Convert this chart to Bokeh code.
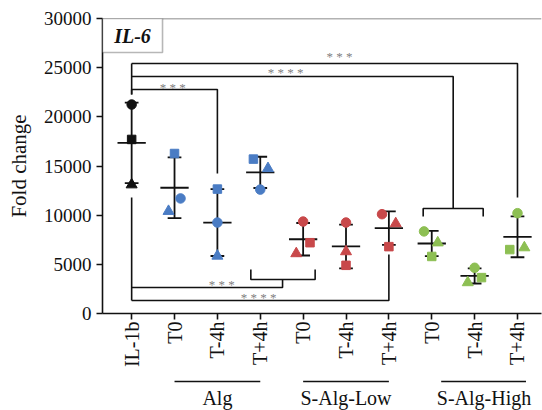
import math
from bokeh.plotting import figure
from bokeh.models import (Range1d, FixedTicker, Span, BoxAnnotation, Label,
                          ColumnDataSource)
from bokeh.layouts import column
from bokeh.embed import file_html
from bokeh.resources import INLINE
from bokeh.core.properties import value
import numpy as np

# ---------------- data ----------------
categories = ["IL-1b", "T0", "T-4h", "T+4h", "T0", "T-4h", "T+4h", "T0", "T-4h", "T+4h"]
positions = list(range(1, 11))
group_names = ["Alg", "S-Alg-Low", "S-Alg-High"]
group_first = [2, 5, 8]
group_last = [4, 7, 10]

circle_vals = [21250, 11700, 9250, 12600, 9350, 9250, 10100, 8350, 4650, 10200]
square_vals = [17700, 16270, 12650, 15700, 7200, 4900, 6800, 5800, 3650, 6500]
triangle_vals = [13100, 10400, 5850, 14750, 6100, 6300, 9150, 7200, 3150, 6700]

y_ticks = [0, 5000, 10000, 15000, 20000, 25000, 30000]

sig_labels = ["* * *", "* * * *", "* * *", "* * *", "* * * *"]

# ---------------- style / layout ----------------
FONT = "Liberation Serif"
colors = ["#111111", "#4a7cc4", "#4a7cc4", "#4a7cc4", "#c8484a", "#c8484a", "#c8484a",
          "#8dbf53", "#8dbf53", "#8dbf53"]
# horizontal spread of overlapping points (x units)
circle_dx = [0, 0.14, 0, 0, 0, 0, -0.16, -0.18, 0, 0]
square_dx = [0, 0, 0, -0.16, 0.16, 0, 0, 0, 0.16, -0.18]
triangle_dx = [0, -0.14, 0, 0.18, -0.16, 0, 0.16, 0.14, -0.16, 0.16]

X0, X1 = 0.32, 10.56
p = figure(width=542, height=375, x_range=Range1d(X0, X1), y_range=Range1d(0, 30000),
           output_backend="svg", toolbar_location=None,
           min_border_left=102, min_border_right=1, min_border_top=18, min_border_bottom=62)
p.grid.visible = False
p.outline_line_color = None

for ax in (p.xaxis[0], p.yaxis[0]):
    ax.axis_line_width = 1.6
    ax.axis_line_color = "#111111"
    ax.major_tick_line_width = 1.6
    ax.major_tick_line_color = "#111111"
    ax.major_tick_out = 6
    ax.major_tick_in = 0
    ax.minor_tick_line_color = None
    ax.major_label_text_font = FONT
    ax.major_label_text_color = "#111111"

p.yaxis.ticker = FixedTicker(ticks=y_ticks)
p.yaxis.major_label_text_font_size = "19px"
p.yaxis.major_label_standoff = 5
p.yaxis.axis_label = "Fold change"
p.yaxis.axis_label_text_font = FONT
p.yaxis.axis_label_text_font_style = "normal"
p.yaxis.axis_label_text_font_size = "21px"
p.yaxis.axis_label_text_color = "#111111"
p.yaxis.axis_label_standoff = 10

p.xaxis.ticker = FixedTicker(ticks=positions)
p.xaxis.major_label_overrides = {pos: c for pos, c in zip(positions, categories)}
p.xaxis.major_label_orientation = math.pi / 2
p.xaxis.major_label_text_font_size = "20px"
p.xaxis.major_label_standoff = 2

p.add_layout(Span(location=30000, dimension="width", line_color="#666666", line_width=1.6))

# ---------------- mean +/- SD ----------------
allv = np.array([circle_vals, square_vals, triangle_vals], dtype=float)
means = allv.mean(axis=0)
sds = allv.std(axis=0, ddof=1)
pos = np.array(positions, dtype=float)
lo = means - sds
hi = means + sds
cap = 0.16
mw = 0.33
seg = ColumnDataSource(dict(
    x0=np.concatenate([pos, pos - cap, pos - cap, pos - mw]),
    x1=np.concatenate([pos, pos + cap, pos + cap, pos + mw]),
    y0=np.concatenate([lo, lo, hi, means]),
    y1=np.concatenate([hi, lo, hi, means]),
))
p.segment("x0", "y0", "x1", "y1", source=seg, line_color="#111111", line_width=1.8)

# ---------------- points ----------------
for vals, dx, marker, size in [(circle_vals, circle_dx, "circle", 9.5),
                               (square_vals, square_dx, "square", 8.5),
                               (triangle_vals, triangle_dx, "triangle", 11)]:
    src = ColumnDataSource(dict(x=pos + np.array(dx), y=vals, c=colors))
    p.scatter("x", "y", source=src, marker=marker, size=size,
              fill_color="c", line_color="c")

# ---------------- significance brackets ----------------
L1, L2, L3 = 22780, 24100, 25420
B1, B2 = 2640, 1320
xs = [
    [1, 1, 3, 3],
    [1, 8.5, 8.5],
    [7.8, 7.8, 9.2, 9.2],
    [1, 1, 10, 10],
    [1, 1],
    [1, 1],
    [1, 4.52, 4.52],
    [3.78, 3.78, 5.28, 5.28],
    [1, 7, 7],
]
ys = [
    [22270, L1, L1, 14240],
    [L2, L2, 10680],
    [9860, 10680, 10680, 9860],
    [L3, L3, L3, 11800],
    [L3, 22270],
    [11800, B2],
    [B1, B1, 3460],
    [4475, 3460, 3460, 4475],
    [B2, B2, 6000],
]
p.multi_line(xs, ys, line_color="#111111", line_width=1.6)

sig_x = [1.96, 4.59, 5.85, 3.10, 3.96]
sig_y = [L1 + 200, L2 + 400, L3 + 710, B1 + 300, B2 + 300]
p.text(x=sig_x, y=sig_y, text=sig_labels, text_font=value(FONT), text_font_size="13px",
       text_color="#808080", text_align="center", text_baseline="middle")

# ---------------- IL-6 title box ----------------
p.add_layout(BoxAnnotation(left=X0, right=1.72, bottom=26540, top=30000,
                           fill_color="white", fill_alpha=1.0,
                           line_color="#111111", line_width=1.6))
p.add_layout(Label(x=1.02, y=28270, text="IL-6", text_font=FONT, text_font_size="20px",
                   text_font_style="bold italic", text_align="center",
                   text_baseline="middle", text_color="#111111"))

# ---------------- group labels (strip under the axis) ----------------
g = figure(width=542, height=35, x_range=p.x_range, y_range=Range1d(35, 0),
           output_backend="svg", toolbar_location=None, x_axis_type=None, y_axis_type=None,
           min_border_left=102, min_border_right=1, min_border_top=0, min_border_bottom=0)
g.grid.visible = False
g.outline_line_color = None
grp_shift = [0.0, 0.0, 0.22]
gx0 = [a + s for a, s in zip(group_first, grp_shift)]
gx1 = [b + s * 0.9 for b, s in zip(group_last, grp_shift)]
gxc = [(a + b) / 2 + s for a, b, s in zip(group_first, group_last, grp_shift)]
g.segment(x0=gx0, x1=gx1, y0=[6] * 3, y1=[6] * 3, line_color="#111111", line_width=1.4)
g.text(x=gxc, y=[22] * 3, text=group_names, text_font=value(FONT), text_font_size="20px",
       text_align="center", text_baseline="middle", text_color="#111111")

layout = column(p, g, spacing=0)
open("out.html", "w").write(file_html(layout, INLINE))
